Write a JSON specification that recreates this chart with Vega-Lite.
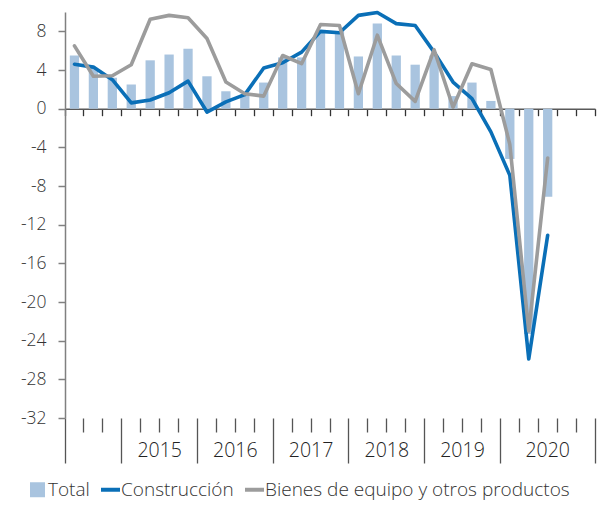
{
  "$schema": "https://vega.github.io/schema/vega-lite/v6.json",
  "width": 530,
  "height": 406,
  "autosize": {"type": "none"},
  "padding": {"left": 65, "top": 12, "right": 9, "bottom": 87},
  "background": "white",
  "config": {"view": {"stroke": null}, "font": "Open Sans"},
  "data": {"values": [
    {"periodo": "2014-Q2", "serie": "Total", "valor": 5.5},
    {"periodo": "2014-Q3", "serie": "Total", "valor": 4.2},
    {"periodo": "2014-Q4", "serie": "Total", "valor": 3.2},
    {"periodo": "2015-Q1", "serie": "Total", "valor": 2.5},
    {"periodo": "2015-Q2", "serie": "Total", "valor": 5.0},
    {"periodo": "2015-Q3", "serie": "Total", "valor": 5.6},
    {"periodo": "2015-Q4", "serie": "Total", "valor": 6.2},
    {"periodo": "2016-Q1", "serie": "Total", "valor": 3.35},
    {"periodo": "2016-Q2", "serie": "Total", "valor": 1.8},
    {"periodo": "2016-Q3", "serie": "Total", "valor": 1.5},
    {"periodo": "2016-Q4", "serie": "Total", "valor": 2.7},
    {"periodo": "2017-Q1", "serie": "Total", "valor": 5.3},
    {"periodo": "2017-Q2", "serie": "Total", "valor": 5.3},
    {"periodo": "2017-Q3", "serie": "Total", "valor": 8.1},
    {"periodo": "2017-Q4", "serie": "Total", "valor": 8.0},
    {"periodo": "2018-Q1", "serie": "Total", "valor": 5.4},
    {"periodo": "2018-Q2", "serie": "Total", "valor": 8.8},
    {"periodo": "2018-Q3", "serie": "Total", "valor": 5.5},
    {"periodo": "2018-Q4", "serie": "Total", "valor": 4.55},
    {"periodo": "2019-Q1", "serie": "Total", "valor": 5.5},
    {"periodo": "2019-Q2", "serie": "Total", "valor": 1.3},
    {"periodo": "2019-Q3", "serie": "Total", "valor": 2.7},
    {"periodo": "2019-Q4", "serie": "Total", "valor": 0.8},
    {"periodo": "2020-Q1", "serie": "Total", "valor": -5.2},
    {"periodo": "2020-Q2", "serie": "Total", "valor": -23.3},
    {"periodo": "2020-Q3", "serie": "Total", "valor": -9.1},
    {"periodo": "2014-Q2", "serie": "Construcción", "valor": 4.6},
    {"periodo": "2014-Q3", "serie": "Construcción", "valor": 4.3},
    {"periodo": "2014-Q4", "serie": "Construcción", "valor": 3.0},
    {"periodo": "2015-Q1", "serie": "Construcción", "valor": 0.6},
    {"periodo": "2015-Q2", "serie": "Construcción", "valor": 0.9},
    {"periodo": "2015-Q3", "serie": "Construcción", "valor": 1.65},
    {"periodo": "2015-Q4", "serie": "Construcción", "valor": 2.85},
    {"periodo": "2016-Q1", "serie": "Construcción", "valor": -0.35},
    {"periodo": "2016-Q2", "serie": "Construcción", "valor": 0.7},
    {"periodo": "2016-Q3", "serie": "Construcción", "valor": 1.45},
    {"periodo": "2016-Q4", "serie": "Construcción", "valor": 4.2},
    {"periodo": "2017-Q1", "serie": "Construcción", "valor": 4.75},
    {"periodo": "2017-Q2", "serie": "Construcción", "valor": 5.85},
    {"periodo": "2017-Q3", "serie": "Construcción", "valor": 8.0},
    {"periodo": "2017-Q4", "serie": "Construcción", "valor": 7.85},
    {"periodo": "2018-Q1", "serie": "Construcción", "valor": 9.65},
    {"periodo": "2018-Q2", "serie": "Construcción", "valor": 9.95},
    {"periodo": "2018-Q3", "serie": "Construcción", "valor": 8.8},
    {"periodo": "2018-Q4", "serie": "Construcción", "valor": 8.6},
    {"periodo": "2019-Q1", "serie": "Construcción", "valor": 5.85},
    {"periodo": "2019-Q2", "serie": "Construcción", "valor": 2.75},
    {"periodo": "2019-Q3", "serie": "Construcción", "valor": 1.05},
    {"periodo": "2019-Q4", "serie": "Construcción", "valor": -2.4},
    {"periodo": "2020-Q1", "serie": "Construcción", "valor": -6.9},
    {"periodo": "2020-Q2", "serie": "Construcción", "valor": -25.9},
    {"periodo": "2020-Q3", "serie": "Construcción", "valor": -13.1},
    {"periodo": "2014-Q2", "serie": "Bienes de equipo y otros productos", "valor": 6.5},
    {"periodo": "2014-Q3", "serie": "Bienes de equipo y otros productos", "valor": 3.35},
    {"periodo": "2014-Q4", "serie": "Bienes de equipo y otros productos", "valor": 3.4},
    {"periodo": "2015-Q1", "serie": "Bienes de equipo y otros productos", "valor": 4.55},
    {"periodo": "2015-Q2", "serie": "Bienes de equipo y otros productos", "valor": 9.25},
    {"periodo": "2015-Q3", "serie": "Bienes de equipo y otros productos", "valor": 9.65},
    {"periodo": "2015-Q4", "serie": "Bienes de equipo y otros productos", "valor": 9.4},
    {"periodo": "2016-Q1", "serie": "Bienes de equipo y otros productos", "valor": 7.25},
    {"periodo": "2016-Q2", "serie": "Bienes de equipo y otros productos", "valor": 2.75},
    {"periodo": "2016-Q3", "serie": "Bienes de equipo y otros productos", "valor": 1.55},
    {"periodo": "2016-Q4", "serie": "Bienes de equipo y otros productos", "valor": 1.3},
    {"periodo": "2017-Q1", "serie": "Bienes de equipo y otros productos", "valor": 5.5},
    {"periodo": "2017-Q2", "serie": "Bienes de equipo y otros productos", "valor": 4.65},
    {"periodo": "2017-Q3", "serie": "Bienes de equipo y otros productos", "valor": 8.7},
    {"periodo": "2017-Q4", "serie": "Bienes de equipo y otros productos", "valor": 8.6},
    {"periodo": "2018-Q1", "serie": "Bienes de equipo y otros productos", "valor": 1.55},
    {"periodo": "2018-Q2", "serie": "Bienes de equipo y otros productos", "valor": 7.6},
    {"periodo": "2018-Q3", "serie": "Bienes de equipo y otros productos", "valor": 2.6},
    {"periodo": "2018-Q4", "serie": "Bienes de equipo y otros productos", "valor": 0.75},
    {"periodo": "2019-Q1", "serie": "Bienes de equipo y otros productos", "valor": 6.1},
    {"periodo": "2019-Q2", "serie": "Bienes de equipo y otros productos", "valor": 0.15},
    {"periodo": "2019-Q3", "serie": "Bienes de equipo y otros productos", "valor": 4.65},
    {"periodo": "2019-Q4", "serie": "Bienes de equipo y otros productos", "valor": 4.05},
    {"periodo": "2020-Q1", "serie": "Bienes de equipo y otros productos", "valor": -3.7},
    {"periodo": "2020-Q2", "serie": "Bienes de equipo y otros productos", "valor": -23.0},
    {"periodo": "2020-Q3", "serie": "Bienes de equipo y otros productos", "valor": -5.1}
  ]},
  "encoding": {
    "y": {
      "field": "valor", "type": "quantitative",
      "scale": {"domain": [-32, 10], "nice": false},
      "axis": {
        "values": [-32, -28, -24, -20, -16, -12, -8, -4, 0, 4, 8],
        "title": null, "grid": false,
        "labelExpr": "'' + datum.value",
        "domainColor": "#808080", "domainWidth": 1.5,
        "tickColor": "#808080", "tickWidth": 1.5, "tickSize": 7,
        "labelFont": "Open Sans", "labelFontWeight": 300, "labelFontSize": 17.5,
        "labelColor": "#333333", "labelPadding": 12
      }
    },
    "color": {
      "field": "serie", "type": "nominal",
      "scale": {
        "domain": ["Total", "Construcción", "Bienes de equipo y otros productos"],
        "range": ["#A9C4DF", "#0A6FB7", "#9C9C9C"]
      },
      "legend": {
        "orient": "none", "legendX": -37, "legendY": 468,
        "direction": "horizontal", "title": null,
        "labelFont": "Open Sans", "labelFontWeight": 300, "labelFontSize": 19,
        "labelLimit": 0,
        "labelColor": "#333333", "labelOffset": 1, "columnPadding": 3,
        "encode": {
          "symbols": {
            "update": {
              "shape": {"signal": "datum.value === 'Total' ? 'square' : 'stroke'"},
              "size": {"signal": "datum.value === 'Total' ? 225 : 361"},
              "strokeWidth": {"signal": "datum.value === 'Total' ? 0 : 4"},
              "fill": {"scale": "color", "field": "value"},
              "stroke": {"scale": "color", "field": "value"},
              "opacity": {"value": 1},
              "fillOpacity": {"value": 1},
              "strokeOpacity": {"value": 1}
            }
          }
        }
      }
    }
  },
  "layer": [
    {
      "transform": [{"filter": "datum.serie === 'Total'"}],
      "mark": {"type": "bar", "opacity": 1, "width": {"band": 0.49}},
      "encoding": {
        "x": {
          "field": "periodo", "type": "ordinal",
          "scale": {
            "domain": ["2014-Q2", "2014-Q3", "2014-Q4", "2015-Q1", "2015-Q2", "2015-Q3", "2015-Q4", "2016-Q1", "2016-Q2", "2016-Q3", "2016-Q4", "2017-Q1", "2017-Q2", "2017-Q3", "2017-Q4", "2018-Q1", "2018-Q2", "2018-Q3", "2018-Q4", "2019-Q1", "2019-Q2", "2019-Q3", "2019-Q4", "2020-Q1", "2020-Q2", "2020-Q3", "2020-Q4", "2021-Q1"],
            "paddingInner": 0, "paddingOuter": 0
          },
          "axis": {
            "orient": "bottom", "offset": -309.3, "title": null, "labels": false,
            "bandPosition": 1, "tickExtra": true, "tickSize": 7,
            "tickColor": "#333333", "tickWidth": 1.3,
            "domainColor": "#595959", "domainWidth": 1.5, "grid": false
          }
        },
        "y2": {"datum": 0}
      }
    },
    {
      "transform": [{"filter": "datum.serie === 'Construcción'"}],
      "mark": {"type": "line", "strokeWidth": 3.6, "strokeJoin": "round", "strokeCap": "round"},
      "encoding": {
        "x": {
          "field": "periodo", "type": "ordinal",
          "scale": {
            "domain": ["2014-Q2", "2014-Q3", "2014-Q4", "2015-Q1", "2015-Q2", "2015-Q3", "2015-Q4", "2016-Q1", "2016-Q2", "2016-Q3", "2016-Q4", "2017-Q1", "2017-Q2", "2017-Q3", "2017-Q4", "2018-Q1", "2018-Q2", "2018-Q3", "2018-Q4", "2019-Q1", "2019-Q2", "2019-Q3", "2019-Q4", "2020-Q1", "2020-Q2", "2020-Q3", "2020-Q4", "2021-Q1"],
            "paddingInner": 0, "paddingOuter": 0
          },
          "axis": {
            "orient": "bottom", "offset": 0, "title": null, "domain": false, "grid": false,
            "bandPosition": 1, "tickExtra": true,
            "tickColor": "#555555", "tickWidth": 1.3,
            "tickSize": {
              "condition": {
                "test": "datum.value == null || datum.extra || indexof(['2014-Q4','2015-Q4','2016-Q4','2017-Q4','2018-Q4','2019-Q4','2021-Q1'], datum.value) >= 0",
                "value": 45
              },
              "value": 14
            },
            "labelExpr": "indexof(['2015-Q2','2016-Q2','2017-Q2','2018-Q2','2019-Q2','2020-Q3'], datum.value) >= 0 ? substring(datum.value, 0, 4) : ''",
            "labelOffset": {"condition": {"test": "datum.value == '2020-Q3'", "value": 0}, "value": 9.47},
            "labelAngle": 0, "labelAlign": "center", "labelBaseline": "top",
            "labelPadding": 9, "labelOverlap": false, "labelBound": false, "labelFlush": false,
            "labelFont": "Open Sans", "labelFontWeight": 300, "labelFontSize": 19.5, "labelColor": "#222222"
          }
        }
      }
    },
    {
      "transform": [{"filter": "datum.serie === 'Bienes de equipo y otros productos'"}],
      "mark": {"type": "line", "strokeWidth": 3.6, "strokeJoin": "round", "strokeCap": "round"},
      "encoding": {
        "x": {
          "field": "periodo", "type": "ordinal",
          "scale": {
            "domain": ["2014-Q2", "2014-Q3", "2014-Q4", "2015-Q1", "2015-Q2", "2015-Q3", "2015-Q4", "2016-Q1", "2016-Q2", "2016-Q3", "2016-Q4", "2017-Q1", "2017-Q2", "2017-Q3", "2017-Q4", "2018-Q1", "2018-Q2", "2018-Q3", "2018-Q4", "2019-Q1", "2019-Q2", "2019-Q3", "2019-Q4", "2020-Q1", "2020-Q2", "2020-Q3", "2020-Q4", "2021-Q1"],
            "paddingInner": 0, "paddingOuter": 0
          },
          "axis": null
        }
      }
    }
  ],
  "resolve": {"axis": {"x": "independent"}}
}
